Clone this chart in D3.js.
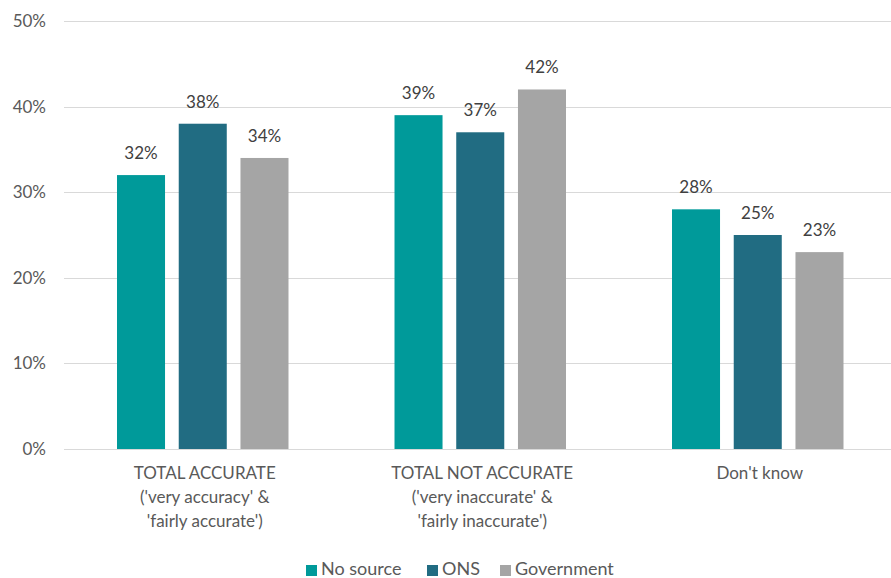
<!DOCTYPE html>
<html>
<head>
<meta charset="utf-8">
<script src="https://cdn.jsdelivr.net/npm/d3@7"></script>
<style>
  body { margin: 0; background: #fff; }
  text { font-family: Lato, "Open Sans", sans-serif; fill: #595959; }
</style>
</head>
<body>
<div id="chart"></div>
<script>
var svgWidth = 891;
var svgHeight = 578;

// plot area runs a bit past the right edge, like the original export
var margin = { top: 21, bottom: 129, left: 64, right: -6 };
var chartWidth = 832.5;
var chartHeight = svgHeight - margin.top - margin.bottom;

// data
var categories = [
    ["TOTAL ACCURATE", "('very accuracy' &", "'fairly accurate')"],
    ["TOTAL NOT ACCURATE", "('very inaccurate' &", "'fairly inaccurate')"],
    ["Don't know"]
];
var seriesNames = ["No source", "ONS", "Government"];
var noSource = [32, 39, 28];
var ons = [38, 37, 25];
var government = [34, 42, 23];
var yTicks = [0, 10, 20, 30, 40, 50];
var colors = ["#009a9a", "#216c82", "#a5a5a5"];

var allSeries = [noSource, ons, government];

var svg = d3.select("#chart")
    .append("svg")
    .attr("width", svgWidth)
    .attr("height", svgHeight);

var chartGroup = svg.append("g")
    .attr("transform", `translate(${margin.left}, ${margin.top})`);

var xScale = d3.scaleBand()
    .domain(d3.range(categories.length))
    .range([0, chartWidth])
    .paddingInner(0.382)
    .paddingOuter(0.191);

var xInner = d3.scaleBand()
    .domain(d3.range(seriesNames.length))
    .range([0, xScale.bandwidth()])
    .paddingInner(0.222);

var yScale = d3.scaleLinear()
    .domain([0, 50])
    .range([chartHeight, 0]);

// gridlines
chartGroup.selectAll(".grid")
    .data(yTicks)
    .enter()
    .append("line")
    .attr("x1", 0)
    .attr("x2", chartWidth)
    .attr("y1", d => Math.round(yScale(d)) + 0.5)
    .attr("y2", d => Math.round(yScale(d)) + 0.5)
    .attr("stroke", "#d9d9d9")
    .attr("stroke-width", 1);

// y labels
var leftAxis = d3.axisLeft(yScale).tickValues(yTicks).tickFormat(d => d + "%").tickSize(0).tickPadding(18);
var yAxis = chartGroup.append("g").call(leftAxis);
yAxis.select(".domain").remove();
yAxis.selectAll("text").style("font-size", "17px").attr("fill", "#595959");

// bars
var groups = chartGroup.selectAll(".cat")
    .data(categories)
    .enter()
    .append("g")
    .attr("transform", (d, i) => `translate(${xScale(i)}, 0)`);

groups.each(function(c, ci) {
    var g = d3.select(this);
    allSeries.forEach(function(s, si) {
        g.append("rect")
            .attr("x", xInner(si))
            .attr("y", yScale(s[ci]))
            .attr("width", xInner.bandwidth())
            .attr("height", chartHeight - yScale(s[ci]))
            .attr("fill", colors[si]);
        g.append("text")
            .attr("x", xInner(si) + xInner.bandwidth() / 2)
            .attr("y", yScale(s[ci]) - 16)
            .attr("text-anchor", "middle")
            .style("font-size", "17px")
            .style("fill", "#404040")
            .text(s[ci] + "%");
    });
});

// x labels
groups.each(function(c, ci) {
    var t = d3.select(this).append("text")
        .attr("text-anchor", "middle")
        .style("font-size", "17px");
    c.forEach(function(line, li) {
        t.append("tspan")
            .attr("x", xScale.bandwidth() / 2 + 2)
            .attr("y", chartHeight + 30 + li * 24)
            .text(line);
    });
});

// legend
var legendX = [306, 427, 500];
var legend = svg.append("g");
seriesNames.forEach(function(name, i) {
    legend.append("rect")
        .attr("x", legendX[i])
        .attr("y", 565)
        .attr("width", 11)
        .attr("height", 11)
        .attr("fill", colors[i]);
    legend.append("text")
        .attr("x", legendX[i] + 15)
        .attr("y", 575)
        .style("font-size", "18px")
        .text(name);
});
</script>
</body>
</html>
